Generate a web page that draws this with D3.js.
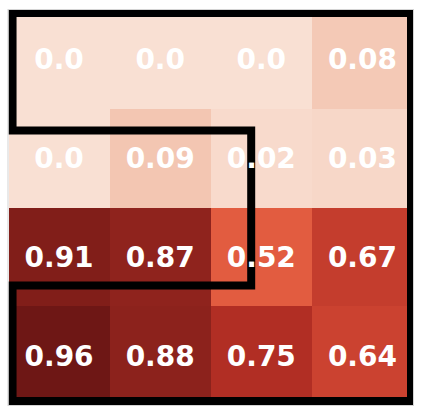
<!DOCTYPE html>
<html>
<head>
<meta charset="utf-8">
<script src="https://cdn.jsdelivr.net/npm/d3@7"></script>
<style>
  html, body { margin: 0; padding: 0; background: #fff; }
  svg { display: block; }
</style>
</head>
<body>
<svg width="423" height="416"></svg>
<script>
// grid values, row by row (top to bottom)
const rows = [0, 1, 2, 3];
const cols = [0, 1, 2, 3];
const values = [
  [0.0, 0.0, 0.0, 0.08],
  [0.0, 0.09, 0.02, 0.03],
  [0.91, 0.87, 0.52, 0.67],
  [0.96, 0.88, 0.75, 0.64]
];
const labels = [
  ["0.0", "0.0", "0.0", "0.08"],
  ["0.0", "0.09", "0.02", "0.03"],
  ["0.91", "0.87", "0.52", "0.67"],
  ["0.96", "0.88", "0.75", "0.64"]
];
// outline drawn over the grid, in cell units
const outline = [
  [-0.46, -0.47], [3.48, -0.47], [3.48, 3.46], [-0.46, 3.46],
  [-0.46, 2.29], [1.9, 2.29], [1.9, 0.72], [-0.46, 0.72]
];
// colour ramp
const rampStops = [0, 0.09, 0.52, 0.64, 0.75, 0.88, 0.96];
const rampColors = ["#f9e0d3", "#f3c6b2", "#e25c40", "#cb4230", "#b12e24", "#8c221c", "#6e1715"];

const svg = d3.select("svg");
const x = d3.scaleLinear().domain([-0.5, 3.5]).range([8.5, 413]);
const y = d3.scaleLinear().domain([-0.5, 3.5]).range([10, 405]);
const color = d3.scaleLinear().domain(rampStops).range(rampColors).clamp(true);

svg.append("defs").append("clipPath").attr("id", "ax")
  .append("rect")
  .attr("x", x(-0.5)).attr("y", y(-0.5))
  .attr("width", x(3.5) - x(-0.5)).attr("height", y(3.5) - y(-0.5));

// frame
svg.append("rect")
  .attr("x", x(-0.5) - 0.5).attr("y", y(-0.5) - 0.5)
  .attr("width", x(3.5) - x(-0.5) + 1).attr("height", y(3.5) - y(-0.5) + 1)
  .attr("fill", "none").attr("stroke", "#d4d4d4").attr("stroke-width", 1);

const cells = [];
rows.forEach(r => cols.forEach(c => cells.push({ r, c, v: values[r][c], t: labels[r][c] })));

svg.append("g").selectAll("rect")
  .data(cells)
  .enter().append("rect")
  .attr("x", d => x(d.c - 0.5))
  .attr("y", d => y(d.r - 0.5))
  .attr("width", d => x(d.c + 0.5) - x(d.c - 0.5))
  .attr("height", d => y(d.r + 0.5) - y(d.r - 0.5))
  .attr("fill", d => color(d.v))
  .attr("shape-rendering", "crispEdges");

const line = d3.line().x(d => x(d[0])).y(d => y(d[1]));
svg.append("path")
  .attr("d", line(outline) + "Z")
  .attr("clip-path", "url(#ax)")
  .attr("fill", "none")
  .attr("stroke", "#000")
  .attr("stroke-width", 8)
  .attr("stroke-linejoin", "miter");

// labels sit on top of the outline
svg.append("g").selectAll("text")
  .data(cells)
  .enter().append("text")
  .attr("x", d => x(d.c))
  .attr("y", d => y(d.r))
  .attr("dy", "0.36em")
  .attr("text-anchor", "middle")
  .attr("fill", "#fff")
  .attr("font-family", "DejaVu Sans")
  .attr("font-weight", "bold")
  .attr("font-size", 28)
  .text(d => d.t);
</script>
</body>
</html>
